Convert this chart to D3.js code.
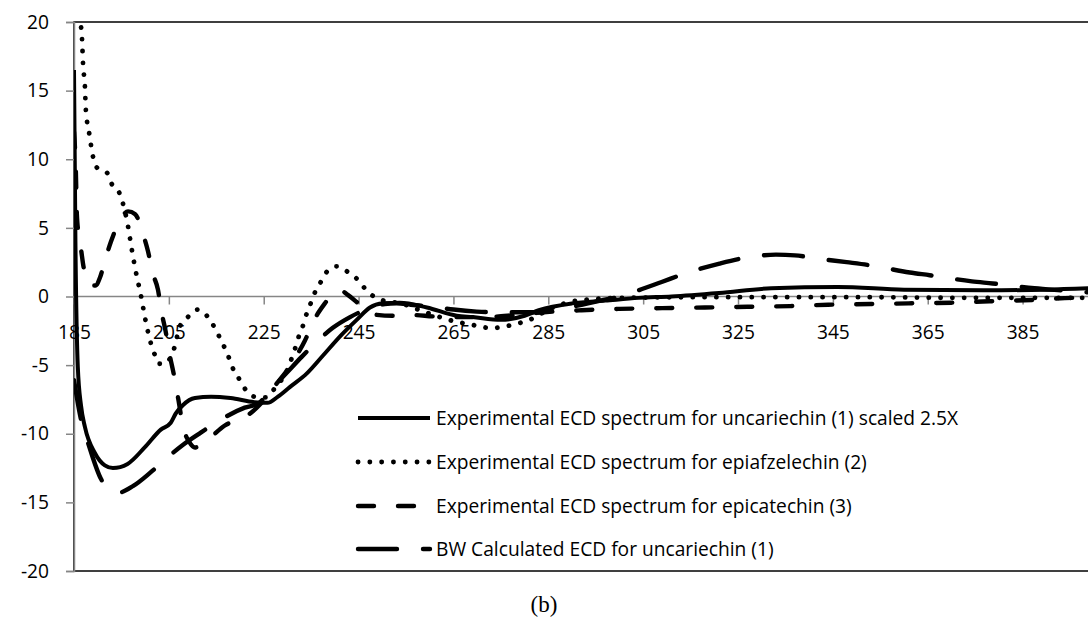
<!DOCTYPE html>
<html>
<head>
<meta charset="utf-8">
<script src="https://cdn.jsdelivr.net/npm/d3@7"></script>
<style>
  html, body { margin: 0; padding: 0; background: #fff; }
  svg { display: block; }
  .tick-label { font-family: "Open Sans", "Liberation Sans", sans-serif; font-size: 19.2px; fill: #000; }
  .legend-label { font-family: "Open Sans", "Liberation Sans", sans-serif; font-size: 19.2px; fill: #000; }
  .caption { font-family: "Liberation Serif", "Times New Roman", serif; font-size: 23px; fill: #000; }
</style>
</head>
<body>
<div id="chart"></div>
<script>
// ECD spectra: [wavelength nm, delta epsilon]
const uncariechinExp = [
  [185, 16.5], [185.3, 4], [185.8, -5.1], [186.5, -8], [187.3, -9.5], [189.4, -11.4], [191.5, -12.3],
  [193.2, -12.5], [196.3, -12.2], [199.9, -11], [203.3, -9.7], [205.4, -9.2], [206.5, -8.5], [208, -7.9],
  [210.5, -7.4], [213.9, -7.3], [218, -7.4], [223, -7.7], [225.8, -7.75], [228, -7.3], [230.5, -6.6],
  [234.1, -5.6], [237.5, -4.3], [241.1, -2.9], [244.6, -1.7], [247.4, -0.8], [250.1, -0.5], [253.7, -0.45],
  [259.4, -0.8], [265.7, -1.4], [269, -1.5], [275, -1.7], [280, -1.4], [283, -1.0], [290, -0.5],
  [297, -0.3], [304, -0.1], [311, 0.0], [321, 0.25], [332, 0.6], [346, 0.7], [360, 0.5], [377, 0.45],
  [390, 0.5], [399, 0.6]
];

const epiafzelechin = [
  [185, 23], [186.5, 19.6], [186.7, 18.7], [186.9, 17], [187.3, 15.3], [187.5, 13.6], [188.2, 11.9],
  [189, 10.2], [189.8, 9.4], [192, 9.0], [192.8, 8.3], [194.5, 7.6], [195.3, 6.8], [196.4, 5.1],
  [197.2, 3.4], [198.1, 1.7], [199.1, 0.1], [200, -1.6], [201.2, -3.4], [202.1, -4.3], [202.9, -4.9],
  [204, -4.9], [206.1, -3.8], [207.3, -2.2], [209, -1.5], [211.1, -0.95], [213, -1.4], [215.6, -2.9],
  [217.7, -4.5], [218.7, -5.4], [220, -6.1], [221.2, -6.8], [223.1, -7.3], [225.5, -7.35], [227.5, -6.6],
  [229.9, -5.4], [230.9, -4.5], [231.6, -3.8], [232.4, -2.9], [233.3, -2.1], [234.1, -1.2], [234.9, -0.5],
  [235.8, 0.3], [237.1, 1.1], [238.3, 1.8], [240.4, 2.2], [242.7, 1.8], [244.6, 1.3], [246.3, 0.6],
  [248.2, 0], [250.3, -0.3], [254, -0.5], [258, -1.0], [264, -1.7], [269.5, -2.1], [273, -2.3],
  [277, -2.1], [281.7, -1.6], [285.3, -0.9], [288.5, -0.5], [291, -0.3], [294, -0.2], [300, -0.1],
  [320, -0.05], [350, -0.05], [375, -0.1], [399, -0.1]
];

const epicatechin = [
  [185, 12], [185.4, 9], [185.6, 6], [186, 4.5], [186.5, 3.4], [186.9, 2.4], [187.6, 1.3], [188.4, 0.8],
  [189.5, 0.8], [190.5, 1.4], [191.5, 2.6], [192.8, 4.0], [194.9, 5.7], [196.4, 6.2], [197.9, 6.0],
  [199.5, 4.6], [200.6, 3.3], [201.6, 1.7], [202.7, 0.5], [203.5, -1.2], [204.3, -2.5], [205.2, -4.3],
  [206, -5.6], [207, -7.5], [208, -9.5], [209.3, -10.6], [210.5, -11.0], [212, -10.8], [213.7, -10.3],
  [216.8, -9.4], [221, -8.8], [224.4, -7.8], [226.9, -6.7], [230.5, -5.1], [231.6, -4.5], [233.7, -3.2],
  [235.8, -1.6], [237.9, -0.5], [239.8, 0.3], [241.1, 0.45], [242.8, 0.1], [244.6, -0.4], [246.3, -0.9],
  [248, -1.3], [252.2, -1.4], [256.4, -1.35], [260.7, -1.45], [266, -1.5], [272, -1.5], [278, -1.35],
  [284, -1.15], [292, -1.0], [300, -0.9], [309, -0.85], [318, -0.8], [327, -0.75], [336, -0.7],
  [344, -0.6], [353, -0.55], [361, -0.5], [370, -0.45], [378, -0.35], [387, -0.25], [396, -0.1], [399, -0.1]
];

const bwCalculated = [
  [185, -6.1], [186.5, -9], [188, -10.7], [190.7, -13.3], [192.5, -14.1], [194.3, -14.3], [197.5, -13.8],
  [201.2, -12.8], [204.8, -11.7], [208, -10.8], [211.8, -9.9], [215.8, -9.0], [221, -8.1], [223.8, -7.8],
  [227, -6.6], [230, -5.5], [233, -4.4], [236.2, -3.3], [239.5, -2.3], [243.2, -1.5], [247.8, -0.8],
  [250.5, -0.55], [253, -0.5], [256, -0.6], [260.7, -0.75], [265, -0.95], [269.9, -1.1], [274.1, -1.15],
  [282.6, -1.15], [288, -0.9], [292, -0.6], [296, -0.3], [300.1, 0], [304, 0.45], [308.9, 1.06],
  [314, 1.7], [321.1, 2.4], [325.4, 2.75], [329, 2.95], [333, 3.05], [337, 3.0], [341, 2.8],
  [347.9, 2.5], [352.3, 2.3], [361.2, 1.75], [365.4, 1.55], [374.3, 1.1], [378.7, 0.95], [387.5, 0.6],
  [393, 0.45], [399, 0.3]
];

const seriesNames = [
  'Experimental ECD spectrum for uncariechin (1) scaled 2.5X',
  'Experimental ECD spectrum for epiafzelechin (2)',
  'Experimental ECD spectrum for epicatechin (3)',
  'BW Calculated ECD for uncariechin (1)'
];
const xTicks = [185, 205, 225, 245, 265, 285, 305, 325, 345, 365, 385];
const yTicks = [-20, -15, -10, -5, 0, 5, 10, 15, 20];
const captionText = '(b)';

const W = 1088, H = 631;
const PLOT = { left: 74, right: 1089, top: 22, bottom: 571 };

const svg = d3.select('#chart').append('svg')
  .attr('width', W)
  .attr('height', H);

const x = d3.scaleLinear().domain([185, 399]).range([PLOT.left, PLOT.right]);
const y = d3.scaleLinear().domain([-20, 20]).range([PLOT.bottom, PLOT.top]);

svg.append('defs').append('clipPath').attr('id', 'plot-clip')
  .append('rect')
    .attr('x', PLOT.left)
    .attr('y', PLOT.top)
    .attr('width', PLOT.right - PLOT.left)
    .attr('height', PLOT.bottom - PLOT.top);

// plot frame (top / bottom / right)
svg.append('rect')
  .attr('x', PLOT.left)
  .attr('y', PLOT.top)
  .attr('width', PLOT.right - PLOT.left)
  .attr('height', PLOT.bottom - PLOT.top)
  .attr('fill', 'none')
  .attr('stroke', '#000')
  .attr('stroke-width', 1.5);

// plain hyphen for negatives, like the original
const fmt = d => String(d);

// y axis
const yAxis = svg.append('g')
  .attr('transform', `translate(${PLOT.left},0)`)
  .call(d3.axisLeft(y).tickValues(yTicks).tickSize(8).tickPadding(17).tickFormat(fmt));
yAxis.select('.domain').attr('stroke', '#868686').attr('stroke-width', 1.5);
yAxis.selectAll('.tick line').attr('stroke', '#868686').attr('stroke-width', 1.5);
yAxis.selectAll('.tick text').attr('class', 'tick-label');
yAxis.attr('font-size', null).attr('font-family', null);

// x axis at y = 0
const xAxis = svg.append('g')
  .attr('transform', `translate(0,${y(0)})`)
  .call(d3.axisBottom(x).tickValues(xTicks).tickSize(8).tickPadding(21).tickFormat(fmt));
xAxis.select('.domain').attr('stroke', '#868686').attr('stroke-width', 1.5)
  .attr('d', `M${PLOT.left},0H${PLOT.right}`);
xAxis.selectAll('.tick line').attr('stroke', '#868686').attr('stroke-width', 1.5);
xAxis.selectAll('.tick text').attr('class', 'tick-label');
xAxis.attr('font-size', null).attr('font-family', null);

// series
const line = d3.line()
  .x(d => x(d[0]))
  .y(d => y(d[1]))
  .curve(d3.curveMonotoneX);

const styles = [
  { data: uncariechinExp, dash: null,       width: 4 },
  { data: epiafzelechin,  dash: '0.1,11.7', width: 4.8 },
  { data: epicatechin,    dash: '16,24',    width: 4.4 },
  { data: bwCalculated,   dash: '39,26',    width: 4.4 }
];

const lines = svg.append('g').attr('clip-path', 'url(#plot-clip)');
styles.forEach(s => {
  lines.append('path')
    .datum(s.data)
    .attr('d', line)
    .attr('fill', 'none')
    .attr('stroke', '#000')
    .attr('stroke-width', s.width)
    .attr('stroke-linecap', s.dash ? 'round' : 'butt')
    .attr('stroke-linejoin', 'round')
    .attr('stroke-dasharray', s.dash);
});

// legend
const legendRowsY = [418, 462, 506, 549];
const legend = svg.append('g');
seriesNames.forEach((name, i) => {
  const s = styles[i];
  legend.append('line')
    .attr('x1', 358).attr('x2', 430)
    .attr('y1', legendRowsY[i]).attr('y2', legendRowsY[i])
    .attr('stroke', '#000')
    .attr('stroke-width', s.width)
    .attr('stroke-linecap', s.dash ? 'round' : 'butt')
    .attr('stroke-dasharray', s.dash);
  legend.append('text')
    .attr('class', 'legend-label')
    .attr('x', 436)
    .attr('y', legendRowsY[i])
    .attr('dy', '0.35em')
    .text(name);
});

// caption
svg.append('text')
  .attr('class', 'caption')
  .attr('x', W / 2)
  .attr('y', 612)
  .attr('text-anchor', 'middle')
  .text(captionText);
</script>
</body>
</html>
